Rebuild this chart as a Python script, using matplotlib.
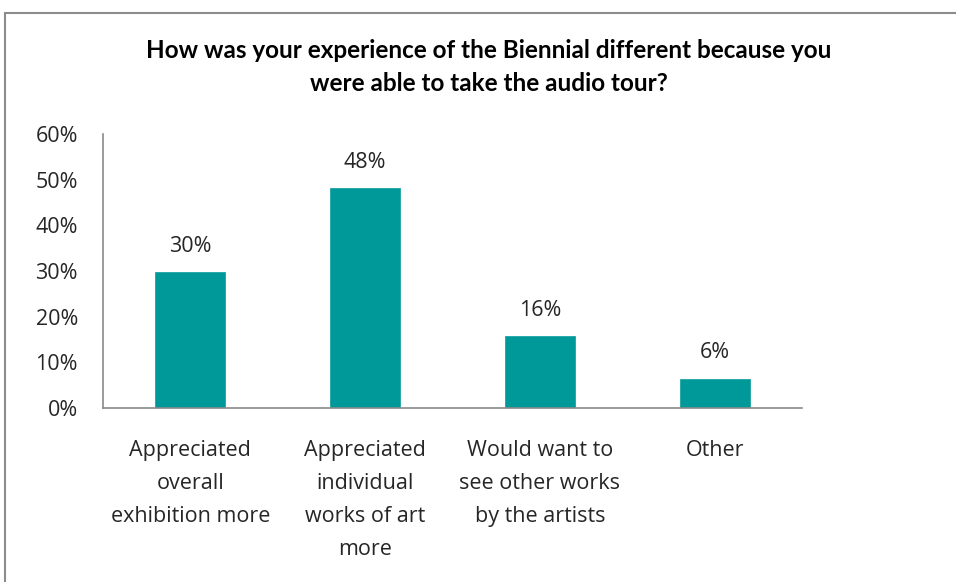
import matplotlib
matplotlib.use("Agg")
import matplotlib.pyplot as plt
from matplotlib.patches import Rectangle
from matplotlib.ticker import PercentFormatter

# survey answers and shares of respondents
categories = [
    "Appreciated\noverall\nexhibition more",
    "Appreciated\nindividual\nworks of art\nmore",
    "Would want to\nsee other works\nby the artists",
    "Other",
]
shares = [0.298, 0.481, 0.157, 0.064]
yticks = [0.0, 0.1, 0.2, 0.3, 0.4, 0.5, 0.6]
title = "How was your experience of the Biennial different because you\nwere able to take the audio tour?"

bar_color = "#009999"
text_color = "#262626"
label_font = "Open Sans"

fig = plt.figure(figsize=(9.56, 5.82), dpi=100)

# outer chart frame, cut off on the right and bottom
fig.patches.append(Rectangle((5 / 956, -0.1), 1.2, 1 - 13 / 582 + 0.1,
                             transform=fig.transFigure, fill=False,
                             edgecolor="#8c8c8c", linewidth=1.5))

ax = fig.add_axes([103 / 956, 1 - 408 / 582, (802 - 103) / 956, (408 - 134) / 582])
x = range(len(categories))
bars = ax.bar(x, shares, width=0.4, color=bar_color, edgecolor="#1fa3a3", linewidth=0.6)

for b, v in zip(bars, shares):
    ax.annotate(f"{v:.0%}", (b.get_x() + b.get_width() / 2, v),
                xytext=(0, 11), textcoords="offset points",
                ha="center", va="bottom", fontsize=15.5,
                family=label_font, color=text_color)

ax.set_xlim(-0.5, len(categories) - 0.5)
ax.set_ylim(0, 0.6)
ax.set_yticks(yticks)
ax.yaxis.set_major_formatter(PercentFormatter(1.0, decimals=0))
ax.set_xticks(list(x))
ax.set_xticklabels(categories, linespacing=1.75)

for lbl in ax.get_yticklabels() + ax.get_xticklabels():
    lbl.set_family(label_font)
    lbl.set_fontsize(15.5)
    lbl.set_color(text_color)

ax.tick_params(axis="both", length=0)
ax.tick_params(axis="y", pad=18)
ax.tick_params(axis="x", pad=23)
for side in ("top", "right"):
    ax.spines[side].set_visible(False)
for side in ("left", "bottom"):
    ax.spines[side].set_color("#8a8a8a")
    ax.spines[side].set_linewidth(1.2)

fig.text(489 / 956, 1 - 67 / 582, title, ha="center", va="center",
         fontsize=17.5, fontweight="bold", family="Lato", color="black",
         linespacing=1.55)

fig.savefig("out.png", dpi=100, facecolor="white")
